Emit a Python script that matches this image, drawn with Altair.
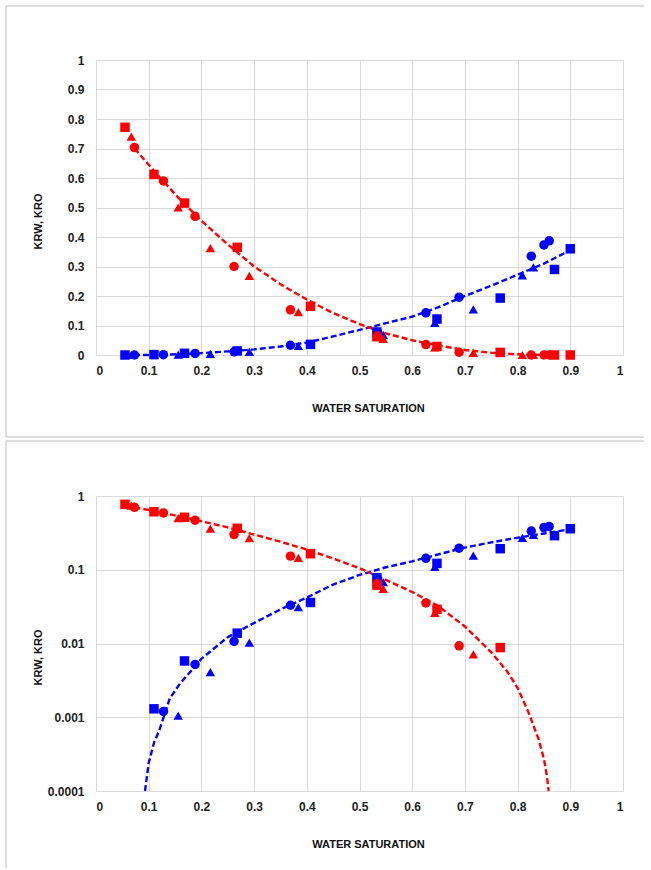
import altair as alt
import pandas as pd

# ---- measured data: three core samples (square, circle, triangle markers) ----
sq_sw = [0.055, 0.11, 0.168, 0.268, 0.407, 0.533, 0.647, 0.767, 0.87, 0.9]
sq_krw = [0.0, 0.0013, 0.0058, 0.0138, 0.036, 0.078, 0.122, 0.193, 0.29, 0.36]
sq_kro = [0.772, 0.612, 0.515, 0.365, 0.165, 0.062, 0.029, 0.0088, 0.0, 0.0]

ci_sw = [0.073, 0.128, 0.188, 0.262, 0.369, 0.534, 0.626, 0.689, 0.826, 0.85, 0.86]
ci_krw = [0.0, 0.0012, 0.0052, 0.0107, 0.033, 0.076, 0.143, 0.196, 0.335, 0.373, 0.387]
ci_kro = [0.703, 0.59, 0.47, 0.30, 0.153, 0.065, 0.0355, 0.0093, 0.0, 0.0, 0.0]

tr_sw = [0.067, 0.156, 0.217, 0.291, 0.384, 0.545, 0.643, 0.716, 0.809, 0.83]
tr_krw = [0.0, 0.00105, 0.0041, 0.0103, 0.031, 0.068, 0.109, 0.155, 0.27, 0.297]
tr_kro = [0.74, 0.50, 0.362, 0.268, 0.145, 0.055, 0.026, 0.0071, 0.0, 0.0]

# ---- dashed trend lines ----
fit_krw_sw = [0.055, 0.08, 0.093, 0.1, 0.11, 0.12, 0.14, 0.16, 0.18, 0.2, 0.25, 0.3,
              0.35, 0.4, 0.45, 0.5, 0.55, 0.6, 0.65, 0.7, 0.75, 0.8, 0.85, 0.9]
fit_krw = [0.0, 0.0, 0.0001, 0.00024, 0.00045, 0.00066, 0.0018, 0.0029, 0.0042, 0.0062,
           0.0122, 0.019, 0.029, 0.042, 0.063, 0.085, 0.108, 0.13, 0.162, 0.2, 0.235,
           0.272, 0.31, 0.355]
fit_kro_sw = [0.073, 0.1, 0.15, 0.2, 0.25, 0.3, 0.35, 0.4, 0.45, 0.5, 0.55, 0.6, 0.65,
              0.7, 0.75, 0.78, 0.8, 0.82, 0.84, 0.85, 0.855, 0.859]
fit_kro = [0.70, 0.645, 0.545, 0.455, 0.375, 0.30, 0.24, 0.188, 0.142, 0.105, 0.073,
           0.05, 0.032, 0.017, 0.0076, 0.0042, 0.0025, 0.0012, 0.0005, 0.00027, 0.00017,
           0.0001]

x_ticks = [0, 0.1, 0.2, 0.3, 0.4, 0.5, 0.6, 0.7, 0.8, 0.9, 1]
y_lin_ticks = [0, 0.1, 0.2, 0.3, 0.4, 0.5, 0.6, 0.7, 0.8, 0.9, 1]
y_log_ticks = [0.0001, 0.001, 0.01, 0.1, 1]

# ---- tables ----
def pts_table(sw, krw, kro):
    rows = []
    for s, w, o in zip(sw, krw, kro):
        rows.append({"sw": s, "k": w, "phase": "krw"})
        rows.append({"sw": s, "k": o, "phase": "kro"})
    return pd.DataFrame(rows)

sq_df = pts_table(sq_sw, sq_krw, sq_kro)
ci_df = pts_table(ci_sw, ci_krw, ci_kro)
tr_df = pts_table(tr_sw, tr_krw, tr_kro)
fit_df = pd.concat([
    pd.DataFrame({"sw": fit_krw_sw, "k": fit_krw, "phase": "krw"}),
    pd.DataFrame({"sw": fit_kro_sw, "k": fit_kro, "phase": "kro"}),
], ignore_index=True)

color_scale = alt.Scale(domain=["krw", "kro"], range=["#0000FF", "#FF0000"])
FONT = "Liberation Sans"
GRID = "#d9d9d9"
FRAME = "#bfbfbf"
W = 527
H = 295


def panel(log, frame_top, frame_bottom):
    x_enc = alt.X("sw:Q", scale=alt.Scale(domain=[0, 1], nice=False, zero=False),
                  axis=alt.Axis(values=x_ticks, format="~g", title="WATER SATURATION",
                                titleX=272, titleY=53, titleBaseline="middle"))
    if log:
        yscale = alt.Scale(type="log", domain=[0.0001, 1], nice=False)
        yvals = y_log_ticks
    else:
        yscale = alt.Scale(domain=[0, 1], nice=False, zero=False)
        yvals = y_lin_ticks
    y_enc = alt.Y("k:Q", scale=yscale,
                  axis=alt.Axis(values=yvals, format="~g", title="KRW, KRO",
                                titleAngle=270, titleX=-58, titleY=161,
                                titleAlign="center", titleBaseline="middle"))
    color = alt.Color("phase:N", scale=color_scale, legend=None)

    def base(df):
        c = alt.Chart(df)
        if log:
            c = c.transform_filter("datum.k > 0")
        return c

    fits = base(fit_df).mark_line(strokeDash=[6, 3], strokeWidth=2.4).encode(
        x=x_enc, y=y_enc, color=color, detail="phase:N")

    def pts(df, shape, sizes):
        return base(df).mark_point(filled=True, opacity=1, shape=shape).encode(
            x=x_enc, y=y_enc, color=color,
            size=alt.Size("phase:N", scale=alt.Scale(domain=["krw", "kro"], range=sizes),
                          legend=None))

    sq = pts(sq_df, "square", [90, 90])
    tr = pts(tr_df, "triangle-up", [80, 80])
    ci = pts(ci_df, "circle", [190, 120])

    dummy = pd.DataFrame({"d": [0]})
    top_rule = alt.Chart(dummy).mark_rule(color=FRAME, strokeWidth=1).encode(
        x=alt.value(-90), x2=alt.value(548), y=alt.value(frame_top))
    left_rule = alt.Chart(dummy).mark_rule(color=FRAME, strokeWidth=1).encode(
        x=alt.value(-90), y=alt.value(frame_top), y2=alt.value(frame_bottom))
    layers = [top_rule, left_rule]
    if not log:
        bottom_rule = alt.Chart(dummy).mark_rule(color=FRAME, strokeWidth=1).encode(
            x=alt.value(-90), x2=alt.value(548), y=alt.value(frame_bottom))
        layers.append(bottom_rule)
    return alt.layer(*layers, fits, sq, tr, ci).properties(width=W, height=H)


top = panel(False, -54, 377)
bottom = panel(True, -55, 372)

chart = alt.vconcat(top, bottom, spacing=2).properties(
    padding={"left": 5, "top": 5, "right": 0, "bottom": 0},
    background="white",
).configure_view(strokeWidth=0).configure_axis(
    grid=True, gridColor=GRID, gridWidth=1, domain=False, ticks=False,
    labelFont=FONT, labelFontSize=12, labelFontWeight="bold",
    labelColor="#222222", labelPadding=12,
    titleFont=FONT, titleFontSize=11, titleFontWeight="bold",
    titleColor="#111111",
).configure_axisX(labelPadding=10)

chart.save("out.html", embed_options={"renderer": "svg", "actions": False})
